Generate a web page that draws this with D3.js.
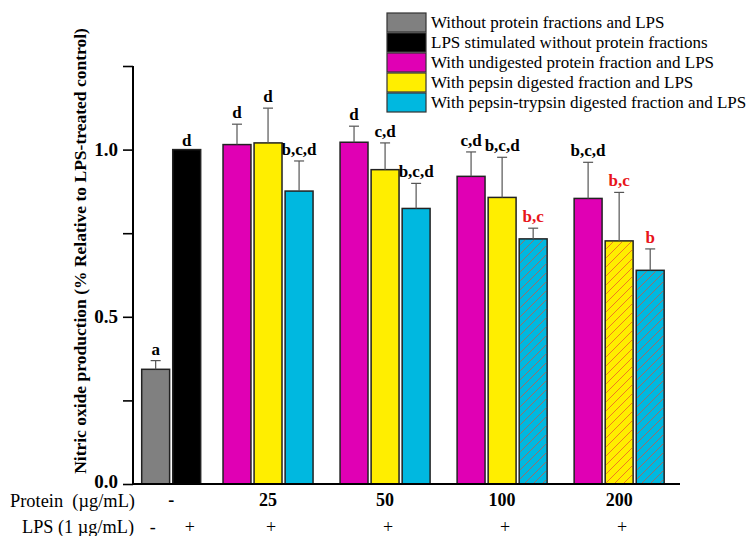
<!DOCTYPE html>
<html>
<head>
<meta charset="utf-8">
<script src="https://cdn.jsdelivr.net/npm/d3@7"></script>
<style>
  body { margin: 0; background: #fff; }
  svg { display: block; font-family: "Liberation Serif", "Times New Roman", serif; }
</style>
</head>
<body>
<svg id="chart" width="750" height="536"></svg>
<script>
// ---- data ----
const groups = ["-", "25", "50", "100", "200"];
const lpsMarks = ["-", "+", "+", "+", "+", "+"];
const seriesNames = [
  "Without protein fractions and LPS",
  "LPS stimulated without protein fractions",
  "With undigested protein fraction and LPS",
  "With pepsin digested fraction and LPS",
  "With pepsin-trypsin digested fraction and LPS"
];
const seriesColors = ["#808080", "#000000", "#e000b4", "#ffee00", "#00b8e0"];

const controlValues = [0.343, 1.0];
const controlErrors = [0.026, 0];
const controlLetters = ["a", "d"];

const undigestedValues = [1.015, 1.022, 0.920, 0.854];
const undigestedErrors = [0.061, 0.048, 0.073, 0.108];
const undigestedLetters = ["d", "d", "c,d", "b,c,d"];

const pepsinValues = [1.020, 0.940, 0.857, 0.727];
const pepsinErrors = [0.104, 0.080, 0.120, 0.145];
const pepsinLetters = ["d", "c,d", "b,c,d", "b,c"];

const trypsinValues = [0.876, 0.824, 0.733, 0.639];
const trypsinErrors = [0.090, 0.075, 0.032, 0.064];
const trypsinLetters = ["b,c,d", "b,c,d", "b,c", "b"];

// significant (red + hatched) marks, by [series, dose index]
const highlighted = [["pepsin", 3], ["trypsin", 2], ["trypsin", 3]];

const yTicks = [0, 0.25, 0.5, 0.75, 1.0, 1.25];
const yLabels = [0, 0.5, 1.0];

// ---- layout ----
const axisLeft = 133, axisRight = 680, axisTop = 66, axisBottom = 484;
const gaps = [0.62, 0.77, 0.77, 0.77];
const barWidth = 0.9;

// build bar list
const bars = [];
controlValues.forEach((v, i) =>
  bars.push({ group: 0, slot: i, value: v, err: controlErrors[i], letter: controlLetters[i], color: seriesColors[i], red: false, hatch: false })
);
const doseSeries = [
  { key: "undigested", values: undigestedValues, errors: undigestedErrors, letters: undigestedLetters, color: seriesColors[2] },
  { key: "pepsin", values: pepsinValues, errors: pepsinErrors, letters: pepsinLetters, color: seriesColors[3] },
  { key: "trypsin", values: trypsinValues, errors: trypsinErrors, letters: trypsinLetters, color: seriesColors[4] }
];
let start = controlValues.length;
const groupCenters = [(controlValues.length - 1 + barWidth) / 2];
for (let g = 1; g < groups.length; g++) {
  start += gaps[g - 1];
  doseSeries.forEach((s, j) => {
    const hi = highlighted.some((h) => h[0] === s.key && h[1] === g - 1);
    bars.push({
      group: g, slot: start + j, value: s.values[g - 1], err: s.errors[g - 1],
      letter: s.letters[g - 1], color: s.color, red: hi, hatch: hi
    });
  });
  groupCenters.push(start + (doseSeries.length - 1 + barWidth) / 2);
  start += doseSeries.length;
}

const x = d3.scaleLinear().domain([-0.28, 17.34]).range([axisLeft, axisRight]);
const y = d3.scaleLinear().domain([0, 1.25]).range([axisBottom, axisTop]);

const svg = d3.select("#chart");

const defs = svg.append("defs");
const pattern = defs.append("pattern")
  .attr("id", "hatch")
  .attr("patternUnits", "userSpaceOnUse")
  .attr("width", 9)
  .attr("height", 9);
pattern.append("path")
  .attr("d", "M-1,1 l2,-2 M0,9 l9,-9 M8,10 l2,-2")
  .attr("stroke", "#e8452a")
  .attr("stroke-width", 0.9)
  .attr("opacity", 0.75);

// bars
const barG = svg.append("g");
barG.selectAll("rect.bar")
  .data(bars)
  .enter()
  .append("rect")
  .attr("class", "bar")
  .attr("x", (d) => x(d.slot))
  .attr("y", (d) => y(d.value))
  .attr("width", (d) => x(d.slot + barWidth) - x(d.slot))
  .attr("height", (d) => y(0) - y(d.value))
  .attr("fill", (d) => d.color)
  .attr("stroke", "#222")
  .attr("stroke-width", 1.5);

barG.selectAll("rect.hatch")
  .data(bars.filter((d) => d.hatch))
  .enter()
  .append("rect")
  .attr("class", "hatch")
  .attr("x", (d) => x(d.slot) + 1)
  .attr("y", (d) => y(d.value) + 1)
  .attr("width", (d) => x(d.slot + barWidth) - x(d.slot) - 2)
  .attr("height", (d) => y(0) - y(d.value) - 1)
  .attr("fill", "url(#hatch)");

// error bars
const errG = svg.append("g").attr("stroke", "#555").attr("stroke-width", 1.2);
const withErr = bars.filter((d) => d.err > 0);
errG.selectAll("line.stem")
  .data(withErr)
  .enter()
  .append("line")
  .attr("x1", (d) => x(d.slot + barWidth / 2))
  .attr("x2", (d) => x(d.slot + barWidth / 2))
  .attr("y1", (d) => y(d.value))
  .attr("y2", (d) => y(d.value + d.err));
errG.selectAll("line.cap")
  .data(withErr)
  .enter()
  .append("line")
  .attr("x1", (d) => x(d.slot + barWidth / 2) - 5)
  .attr("x2", (d) => x(d.slot + barWidth / 2) + 5)
  .attr("y1", (d) => y(d.value + d.err))
  .attr("y2", (d) => y(d.value + d.err));

// letters
svg.append("g")
  .selectAll("text")
  .data(bars)
  .enter()
  .append("text")
  .attr("x", (d) => x(d.slot + barWidth / 2))
  .attr("y", (d) => y(d.value + d.err) - (d.err > 0 ? 6 : 4))
  .attr("text-anchor", "middle")
  .attr("font-size", 17)
  .attr("font-weight", "bold")
  .attr("fill", (d) => (d.red ? "#e8141a" : "#000"))
  .text((d) => d.letter);

// y axis
const yAxis = svg.append("g")
  .attr("transform", "translate(" + axisLeft + ",0)")
  .call(d3.axisLeft(y).tickValues(yTicks).tickSize(10).tickPadding(5)
    .tickFormat((d) => (yLabels.includes(d) ? d3.format(".1f")(d) : "")));
yAxis.select(".domain").attr("stroke-width", 2).attr("d", "M0," + axisTop + "V" + axisBottom);
yAxis.selectAll("line").attr("stroke-width", 1.6);
yAxis.selectAll("text")
  .attr("font-family", "Liberation Serif, serif")
  .attr("font-size", 19)
  .attr("font-weight", "bold")
  .attr("fill", "#000");
yAxis.selectAll(".tick text").filter((d) => d === 0).attr("dy", "0.2em");

// x axis baseline
svg.append("line")
  .attr("x1", axisLeft)
  .attr("x2", axisRight)
  .attr("y1", y(0))
  .attr("y2", y(0))
  .attr("stroke", "#000")
  .attr("stroke-width", 2);

// y title
svg.append("text")
  .attr("transform", "translate(86,251) rotate(-90)")
  .attr("text-anchor", "middle")
  .attr("font-size", 17.5)
  .attr("font-weight", "bold")
  .text("Nitric oxide production (% Relative to LPS-treated control)");

// bottom rows
svg.append("text")
  .attr("x", 135)
  .attr("y", 507)
  .attr("text-anchor", "end")
  .attr("font-size", 18)
  .attr("textLength", 125)
  .attr("lengthAdjust", "spacingAndGlyphs")
  .text("Protein  (\u00b5g/mL)")
  .style("white-space", "pre");

svg.append("g")
  .selectAll("text")
  .data(groups)
  .enter()
  .append("text")
  .attr("x", (d, i) => x(groupCenters[i]))
  .attr("y", 506)
  .attr("text-anchor", "middle")
  .attr("font-size", 18)
  .attr("font-weight", "bold")
  .text((d) => d);

svg.append("text")
  .attr("x", 134)
  .attr("y", 533)
  .attr("text-anchor", "end")
  .attr("font-size", 18)
  .attr("textLength", 112)
  .attr("lengthAdjust", "spacingAndGlyphs")
  .text("LPS (1 \u00b5g/mL)");

const lpsX = [bars[0].slot + barWidth / 2, bars[1].slot + barWidth / 2].concat(groupCenters.slice(1));
svg.append("g")
  .selectAll("text")
  .data(lpsMarks)
  .enter()
  .append("text")
  .attr("x", (d, i) => x(lpsX[i]) + (i === 0 ? -3 : 3))
  .attr("y", 533)
  .attr("text-anchor", "middle")
  .attr("font-size", 18)
  .text((d) => d);

// legend
const legend = svg.append("g").attr("transform", "translate(387,13)");
const rows = legend.selectAll("g")
  .data(seriesNames)
  .enter()
  .append("g")
  .attr("transform", (d, i) => "translate(0," + i * 20 + ")");
rows.append("rect")
  .attr("width", 39)
  .attr("height", 19)
  .attr("fill", (d, i) => seriesColors[i])
  .attr("stroke", "#333")
  .attr("stroke-width", 1.2);
rows.append("text")
  .attr("x", 44)
  .attr("y", 15)
  .attr("font-size", 17)
  .text((d) => d);
</script>
</body>
</html>
